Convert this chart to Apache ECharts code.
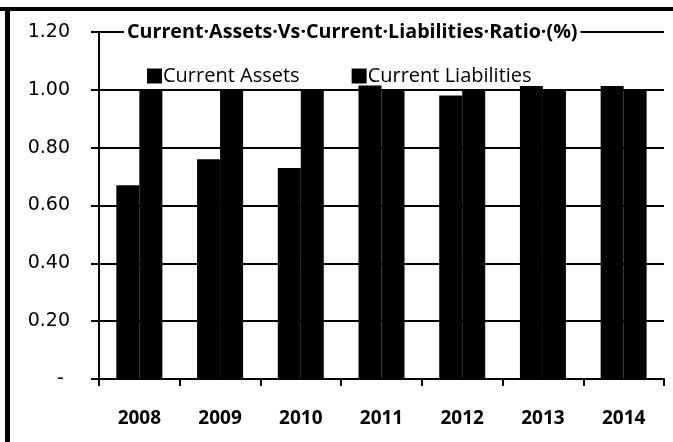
<!DOCTYPE html>
<html>
<head>
<meta charset="utf-8">
<script src="https://cdn.jsdelivr.net/npm/echarts@6/dist/echarts.min.js"></script>
<style>
html,body{margin:0;padding:0;background:#fff;}
#chart{width:673px;height:442px;}
</style>
</head>
<body>
<div id="chart"></div>
<script>
var years = ['2008', '2009', '2010', '2011', '2012', '2013', '2014'];
var currentAssets = [0.67, 0.76, 0.73, 1.015, 0.98, 1.013, 1.013];
var currentLiabilities = [1.00, 1.00, 1.00, 1.00, 1.00, 1.00, 1.00];
var yTicks = [0, 0.2, 0.4, 0.6, 0.8, 1.0, 1.2];
var titleText = 'Current·Assets·Vs·Current·Liabilities·Ratio·(%)';
var seriesNames = ['Current Assets', 'Current Liabilities'];

var chart = echarts.init(document.getElementById('chart'));
var option = {
  animation: false,
  backgroundColor: '#fff',
  title: {
    text: titleText,
    left: 124,
    top: 20,
    padding: [0, 3, 0, 3],
    backgroundColor: '#fff',
    textStyle: {fontFamily: 'Open Sans', fontWeight: 'bold', fontSize: 19.7, color: '#000', lineHeight: 24}
  },
  legend: {
    left: 147,
    top: 66,
    padding: 0,
    itemWidth: 15,
    itemHeight: 15,
    itemGap: 52,
    icon: 'rect',
    data: seriesNames,
    textStyle: {fontFamily: 'Open Sans', fontSize: 20, color: '#000', padding: [0, 0, 0, -4]}
  },
  grid: {left: 99, right: 9, top: 32, bottom: 63, containLabel: false},
  xAxis: {
    type: 'category',
    data: years,
    boundaryGap: true,
    axisLine: {lineStyle: {color: '#000', width: 2}},
    axisTick: {show: true, length: 7, lineStyle: {color: '#000', width: 2}},
    axisLabel: {fontFamily: 'Open Sans', fontWeight: 'bold', fontSize: 19, color: '#000', margin: 30}
  },
  yAxis: {
    type: 'value',
    min: yTicks[0],
    max: yTicks[yTicks.length - 1],
    interval: 0.2,
    axisLine: {show: true, lineStyle: {color: '#000', width: 2}},
    axisTick: {show: true, length: 8, lineStyle: {color: '#000', width: 2}},
    splitLine: {show: true, lineStyle: {color: '#000', width: 2}},
    axisLabel: {
      fontFamily: 'DejaVu Sans', fontSize: 19, color: '#000', margin: 29,
      formatter: function (v) { return Math.abs(v) < 1e-9 ? '- ' : v.toFixed(2); }
    }
  },
  graphic: [
    {type: 'rect', left: 0, top: 7, shape: {width: 673, height: 4}, style: {fill: '#000'}, z: 100},
    {type: 'rect', left: 5, top: 7, shape: {width: 5, height: 435}, style: {fill: '#000'}, z: 100}
  ],
  series: [
    {name: seriesNames[0], type: 'bar', data: currentAssets, barWidth: 23, barGap: '0%', itemStyle: {color: '#000'}},
    {name: seriesNames[1], type: 'bar', data: currentLiabilities, barWidth: 23, barGap: '0%', itemStyle: {color: '#000'}}
  ]
};
chart.setOption(option);
</script>
</body>
</html>
